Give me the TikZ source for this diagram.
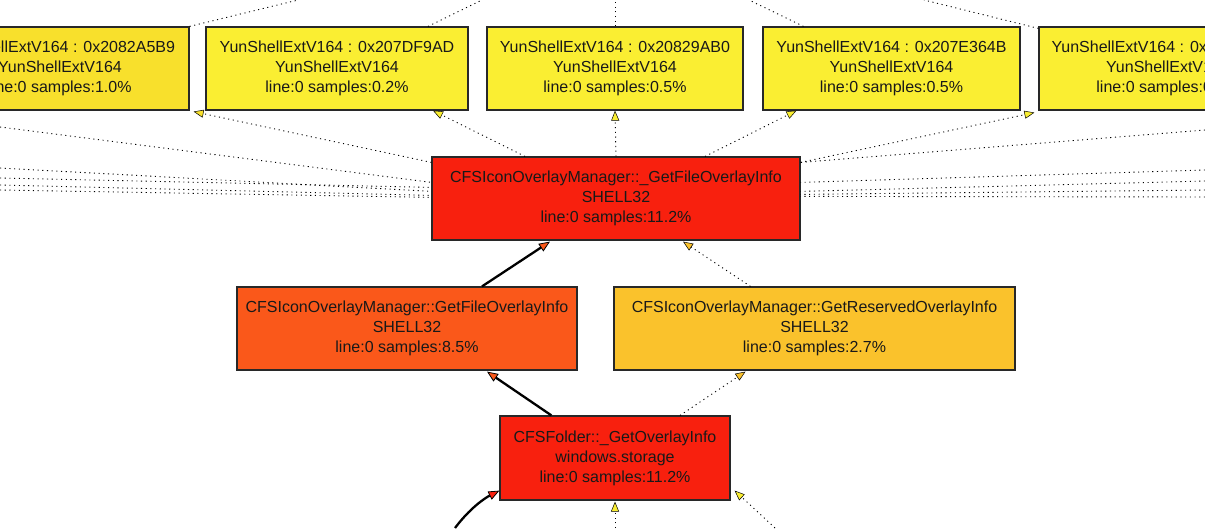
\documentclass[tikz,border=0pt]{standalone}
\usepackage{fontspec}
\setmainfont{Liberation Sans}
\usetikzlibrary{arrows.meta}
\definecolor{cyel}{RGB}{250,238,50}
\definecolor{cyelA}{RGB}{248,224,44}
\definecolor{cred}{RGB}{248,32,14}
\definecolor{corn}{RGB}{250,88,26}
\definecolor{cyor}{RGB}{250,194,44}
\definecolor{cedge}{RGB}{40,40,40}
\tikzset{
  fbox/.style={draw=cedge, line width=1.2pt, minimum height=83pt, inner sep=0pt,
    align=center, font=\fontsize{16}{20}\selectfont, text=black!90},
  dotedge/.style={draw=black, line width=0.9pt, dash pattern=on 1.1pt off 3.6pt},
  thickedge/.style={draw=black, line width=2.3pt},
  yhead/.style={-{Triangle[length=10pt,width=8pt,fill=#1,line width=0.5pt]}},
  thead/.style={-{Triangle[length=11pt,width=9pt,fill=#1,line width=0.8pt]}},
}
\begin{document}
\begin{tikzpicture}[x=1pt,y=-1pt]
\useasboundingbox (0,0) rectangle (1205,528);
% top row
\node[fbox, fill=cyelA, minimum width=258pt] (tA) at (60,68.5)
  {YunShellExtV164 : 0x2082A5B9\\YunShellExtV164\\line:0 samples:1.0\%};
\node[fbox, fill=cyel, minimum width=262pt] (tB) at (337,68.5)
  {YunShellExtV164 : 0x207DF9AD\\YunShellExtV164\\line:0 samples:0.2\%};
\node[fbox, fill=cyel, minimum width=256pt] (tC) at (615,68.5)
  {YunShellExtV164 : 0x20829AB0\\YunShellExtV164\\line:0 samples:0.5\%};
\node[fbox, fill=cyel, minimum width=257pt] (tD) at (891.5,68.5)
  {YunShellExtV164 : 0x207E364B\\YunShellExtV164\\line:0 samples:0.5\%};
\node[fbox, fill=cyel, minimum width=258pt] (tE) at (1168,68.5)
  {YunShellExtV164 : 0x207E1B0C\\YunShellExtV164\\line:0 samples:0.5\%};
% middle
\node[fbox, fill=cred, minimum width=368pt] (mid) at (616,198.5)
  {CFSIconOverlayManager::\_GetFileOverlayInfo\\SHELL32\\line:0 samples:11.2\%};
\node[fbox, fill=corn, minimum width=340pt] (orn) at (407,328.5)
  {CFSIconOverlayManager::GetFileOverlayInfo\\SHELL32\\line:0 samples:8.5\%};
\node[fbox, fill=cyor, minimum width=401pt] (yor) at (814.5,328.5)
  {CFSIconOverlayManager::GetReservedOverlayInfo\\SHELL32\\line:0 samples:2.7\%};
\node[fbox, fill=cred, minimum width=230pt, minimum height=84pt] (bot) at (615,458)
  {CFSFolder::\_GetOverlayInfo\\windows.storage\\line:0 samples:11.2\%};

% free-end coordinates
\coordinate (uA) at (298,0);
\coordinate (uB) at (482,0);
\coordinate (uC) at (615,0);
\coordinate (uD) at (749,0);
\coordinate (uE) at (924,0);
\coordinate (l1) at (0,127);
\coordinate (l2) at (0,168);
\coordinate (l3) at (0,178);
\coordinate (l4) at (0,185);
\coordinate (l5) at (0,190);
\coordinate (r1) at (1205,130);
\coordinate (r2) at (1205,170);
\coordinate (r3) at (1205,181);
\coordinate (r4) at (1205,190);
\coordinate (r5) at (1205,197);
\coordinate (b1) at (455,528);
\coordinate (b2) at (615,528);
\coordinate (b3) at (775,528);

% edges from above into top boxes
\draw[dotedge] (tA.north east) -- (uA);
\draw[dotedge] ([xshift=91pt]tB.north) -- (uB);
\draw[dotedge] (tC.north) -- (uC);
\draw[dotedge] ([xshift=-88pt]tD.north) -- (uD);
\draw[dotedge] ([yshift=-2pt]tE.north west) -- (uE);

% mid -> top boxes
\draw[dotedge, yhead=cyelA] ([yshift=-6pt]mid.north west) -- ([xshift=4pt,yshift=-1pt]tA.south east);
\draw[dotedge, yhead=cyel] ([xshift=-91pt]mid.north) -- ([xshift=96pt]tB.south);
\draw[dotedge, yhead=cyel] (mid.north) -- (tC.south);
\draw[dotedge, yhead=cyel] ([xshift=89pt]mid.north) -- ([xshift=-95pt]tD.south);
\draw[dotedge, yhead=cyel] ([yshift=-6pt]mid.north east) -- ([xshift=-4pt,yshift=-2pt]tE.south west);

% side lines into mid
\draw[dotedge] (l1) -- ([yshift=-26pt]mid.north west);
\draw[dotedge] (l2) -- ([yshift=-35pt]mid.north west);
\draw[dotedge] (l3) -- ([yshift=-31pt]mid.north west);
\draw[dotedge] (l4) -- ([yshift=-39pt]mid.north west);
\draw[dotedge] (l5) -- ([yshift=-41pt]mid.north west);
\draw[dotedge] (r1) -- ([yshift=-6pt]mid.north east);
\draw[dotedge] (r2) -- ([yshift=-26pt]mid.north east);
\draw[dotedge] (r3) -- ([yshift=-35pt]mid.north east);
\draw[dotedge] (r4) -- ([yshift=-38pt]mid.north east);
\draw[dotedge] (r5) -- ([yshift=-40pt]mid.north east);

% second row -> mid
\draw[thickedge, thead=corn] ([xshift=75pt]orn.north) -- ([xshift=-66pt,yshift=-1pt]mid.south);
\draw[dotedge, yhead=cyor] ([xshift=-64pt]yor.north) -- ([xshift=67pt,yshift=-1pt]mid.south);

% bottom -> second row
\draw[thickedge, thead=corn] ([xshift=52pt]bot.north west) -- ([xshift=80pt,yshift=-1pt]orn.south);
\draw[dotedge, yhead=cyor] ([xshift=65pt]bot.north) -- ([xshift=-69pt,yshift=-1pt]yor.south);

% into bottom box
\draw[thickedge, thead=cred]
  (b1) .. controls (470,508) and (485,498) .. ([yshift=10pt]bot.south west);
\draw[dotedge, yhead=cyel] (b2) -- ([yshift=-1pt]bot.south);
\draw[dotedge, yhead=cyel] (b3) -- ([xshift=4pt,yshift=10pt]bot.south east);
\end{tikzpicture}
\end{document}
